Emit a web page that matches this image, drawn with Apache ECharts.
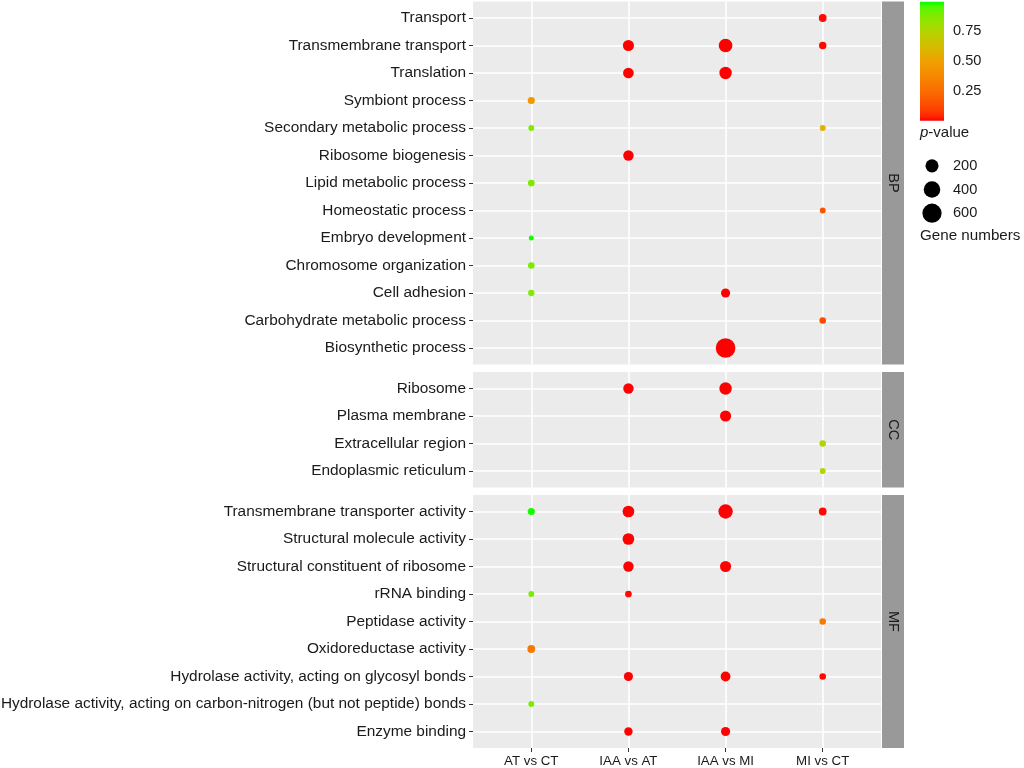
<!DOCTYPE html>
<html>
<head>
<meta charset="utf-8">
<script src="https://cdn.jsdelivr.net/npm/echarts@6/dist/echarts.min.js"></script>
<style>
html,body{margin:0;padding:0;background:#fff;}
#c{width:1024px;height:768px;}
</style>
</head>
<body>
<div id="c"></div>
<script>
// ---------- data ----------
var comparisons = ['AT vs CT', 'IAA vs AT', 'IAA vs MI', 'MI vs CT'];

var bpTerms = ['Transport', 'Transmembrane transport', 'Translation', 'Symbiont process',
  'Secondary metabolic process', 'Ribosome biogenesis', 'Lipid metabolic process',
  'Homeostatic process', 'Embryo development', 'Chromosome organization', 'Cell adhesion',
  'Carbohydrate metabolic process', 'Biosynthetic process'];
var ccTerms = ['Ribosome', 'Plasma membrane', 'Extracellular region', 'Endoplasmic reticulum'];
var mfTerms = ['Transmembrane transporter activity', 'Structural molecule activity',
  'Structural constituent of ribosome', 'rRNA binding', 'Peptidase activity',
  'Oxidoreductase activity', 'Hydrolase activity, acting on glycosyl bonds',
  'Hydrolase activity, acting on carbon-nitrogen (but not peptide) bonds', 'Enzyme binding'];

// [term, comparison, gene numbers, p-value]
var bpPoints = [
  ['Transport', 'MI vs CT', 28, 0.01],
  ['Transmembrane transport', 'IAA vs AT', 116, 0.0],
  ['Transmembrane transport', 'IAA vs MI', 229, 0.0],
  ['Transmembrane transport', 'MI vs CT', 23, 0.01],
  ['Translation', 'IAA vs AT', 102, 0.0],
  ['Translation', 'IAA vs MI', 168, 0.0],
  ['Symbiont process', 'AT vs CT', 19, 0.46],
  ['Secondary metabolic process', 'AT vs CT', 7, 0.87],
  ['Secondary metabolic process', 'MI vs CT', 7, 0.57],
  ['Ribosome biogenesis', 'IAA vs AT', 92, 0.0],
  ['Lipid metabolic process', 'AT vs CT', 14, 0.88],
  ['Homeostatic process', 'MI vs CT', 7, 0.15],
  ['Embryo development', 'AT vs CT', 5, 0.98],
  ['Chromosome organization', 'AT vs CT', 12, 0.88],
  ['Cell adhesion', 'AT vs CT', 10, 0.87],
  ['Cell adhesion', 'IAA vs MI', 56, 0.0],
  ['Carbohydrate metabolic process', 'MI vs CT', 12, 0.12],
  ['Biosynthetic process', 'IAA vs MI', 640, 0.0]
];
var ccPoints = [
  ['Ribosome', 'IAA vs AT', 92, 0.0],
  ['Ribosome', 'IAA vs MI', 168, 0.0],
  ['Plasma membrane', 'IAA vs MI', 116, 0.0],
  ['Extracellular region', 'MI vs CT', 12, 0.73],
  ['Endoplasmic reticulum', 'MI vs CT', 7, 0.73]
];
var mfPoints = [
  ['Transmembrane transporter activity', 'AT vs CT', 19, 0.98],
  ['Transmembrane transporter activity', 'IAA vs AT', 139, 0.0],
  ['Transmembrane transporter activity', 'IAA vs MI', 266, 0.0],
  ['Transmembrane transporter activity', 'MI vs CT', 28, 0.01],
  ['Structural molecule activity', 'IAA vs AT', 139, 0.0],
  ['Structural constituent of ribosome', 'IAA vs AT', 92, 0.0],
  ['Structural constituent of ribosome', 'IAA vs MI', 116, 0.0],
  ['rRNA binding', 'AT vs CT', 7, 0.88],
  ['rRNA binding', 'IAA vs AT', 14, 0.01],
  ['Peptidase activity', 'MI vs CT', 12, 0.31],
  ['Oxidoreductase activity', 'AT vs CT', 28, 0.30],
  ['Hydrolase activity, acting on glycosyl bonds', 'IAA vs AT', 56, 0.0],
  ['Hydrolase activity, acting on glycosyl bonds', 'IAA vs MI', 75, 0.0],
  ['Hydrolase activity, acting on glycosyl bonds', 'MI vs CT', 12, 0.01],
  ['Hydrolase activity, acting on carbon-nitrogen (but not peptide) bonds', 'AT vs CT', 7, 0.88],
  ['Enzyme binding', 'IAA vs AT', 40, 0.0],
  ['Enzyme binding', 'IAA vs MI', 56, 0.0]
];

var colorTicks = [0.25, 0.50, 0.75];
var sizeBreaks = [200, 400, 600];
var pRange = [0, 0.99];
var geneRange = [5, 700];
var paletteAnchors = ['#ff0000', '#f0a000', '#00ff00'];

// ---------- helpers ----------
var FONT = '"Liberation Sans", Arial, Helvetica, sans-serif';
var TXT = '#1a1a1a';

function hexToRgb(h) { return [parseInt(h.substr(1,2),16)/255, parseInt(h.substr(3,2),16)/255, parseInt(h.substr(5,2),16)/255]; }
function toLin(c) { return c <= 0.04045 ? c/12.92 : Math.pow((c+0.055)/1.055, 2.4); }
function fromLin(c) { return c <= 0.0031308 ? 12.92*c : 1.055*Math.pow(c, 1/2.4) - 0.055; }
function rgbToLab(rgb) {
  var r = toLin(rgb[0]), g = toLin(rgb[1]), b = toLin(rgb[2]);
  var X = (0.4124*r + 0.3576*g + 0.1805*b)/0.95047;
  var Y = (0.2126*r + 0.7152*g + 0.0722*b);
  var Z = (0.0193*r + 0.1192*g + 0.9505*b)/1.08883;
  function f(t){ return t > 0.008856 ? Math.cbrt(t) : 7.787*t + 16/116; }
  var fx=f(X), fy=f(Y), fz=f(Z);
  return [116*fy-16, 500*(fx-fy), 200*(fy-fz)];
}
function labToHex(lab) {
  var fy = (lab[0]+16)/116, fx = fy + lab[1]/500, fz = fy - lab[2]/200;
  function fi(t){ return t*t*t > 0.008856 ? t*t*t : (t-16/116)/7.787; }
  var X = fi(fx)*0.95047, Y = fi(fy), Z = fi(fz)*1.08883;
  var r =  3.2406*X - 1.5372*Y - 0.4986*Z;
  var g = -0.9689*X + 1.8758*Y + 0.0415*Z;
  var b =  0.0557*X - 0.2040*Y + 1.0570*Z;
  function h(c){ c = Math.max(0, Math.min(1, fromLin(Math.max(0,c)))); var s = Math.round(c*255).toString(16); return s.length<2?'0'+s:s; }
  return '#' + h(r) + h(g) + h(b);
}
var anchorLabs = paletteAnchors.map(function(c){ return rgbToLab(hexToRgb(c)); });
function ramp(t) {
  var segs = anchorLabs.length - 1;
  var s = Math.min(segs - 1, Math.floor(t*segs));
  var u = t*segs - s;
  var a = anchorLabs[s], b = anchorLabs[s+1];
  return labToHex([0,1,2].map(function(i){ return a[i] + (b[i]-a[i])*u; }));
}
var NSTOP = 24;
var rampColors = [];
for (var k = 0; k <= NSTOP; k++) rampColors.push(ramp(k/NSTOP));

function sizeOf(v) {
  var t = (v - geneRange[0]) / (geneRange[1] - geneRange[0]);
  t = Math.max(0, t);
  return 5 + 15.3*Math.sqrt(t);
}

var F = 5; // sub-steps per category, to reproduce ggplot 0.6 expansion
function expandedCats(labels) {
  var n = labels.length, arr = [];
  for (var i = 0; i <= F*n - F + 6; i++) arr.push('');
  labels.forEach(function(l, i){ arr[3 + F*i] = l; });
  return arr;
}
function onCat(idx) { return idx % F === 3; }

var panels = [
  { name: 'BP', terms: bpTerms, points: bpPoints, top: 1.5, height: 363 },
  { name: 'CC', terms: ccTerms, points: ccPoints, top: 372, height: 115.5 },
  { name: 'MF', terms: mfTerms, points: mfPoints, top: 495, height: 253 }
];
var PL = 473, PW = 408;

var grids = [], xAxes = [], yAxes = [], series = [], graphics = [];
panels.forEach(function(p, gi) {
  grids.push({ left: PL, top: p.top, width: PW, height: p.height, show: true, backgroundColor: '#ebebeb', borderWidth: 0,
    containLabel: false, outerBoundsMode: 'none' });
  var last = gi === panels.length - 1;
  xAxes.push({
    type: 'category', gridIndex: gi, data: expandedCats(comparisons), boundaryGap: false,
    axisLine: { show: false },
    axisTick: { show: last, length: 4, interval: onCat, lineStyle: { color: '#333', width: 1 } },
    axisLabel: { show: last, interval: onCat, color: TXT, fontSize: 13.3, fontFamily: FONT, margin: 7 },
    splitLine: { show: true, interval: onCat, lineStyle: { color: '#ffffff', width: 1.6 } }
  });
  yAxes.push({
    type: 'category', gridIndex: gi, data: expandedCats(p.terms), boundaryGap: false, inverse: true,
    axisLine: { show: false },
    axisTick: { show: true, length: 4, interval: onCat, lineStyle: { color: '#333', width: 1 } },
    axisLabel: { show: true, interval: onCat, color: TXT, fontSize: 15.4, fontFamily: FONT, margin: 7, padding: [2, 0, 0, 0] },
    splitLine: { show: true, interval: onCat, lineStyle: { color: '#ffffff', width: 1.6 } }
  });
  series.push({
    type: 'scatter', xAxisIndex: gi, yAxisIndex: gi, z: 5,
    data: p.points.map(function(d){
      return [3 + F*comparisons.indexOf(d[1]), 3 + F*p.terms.indexOf(d[0]), d[2], d[3]];
    }),
    symbolSize: function(val){ return sizeOf(val[2]); },
    itemStyle: { opacity: 1 },
    emphasis: { disabled: true }
  });
  graphics.push({ type: 'rect', shape: { x: 882, y: p.top, width: 22, height: p.height }, style: { fill: '#999999' }, silent: true });
  graphics.push({ type: 'text', x: 893, y: p.top + p.height/2, rotation: -Math.PI/2,
    style: { text: p.name, fill: TXT, font: '14.5px ' + FONT, align: 'center', verticalAlign: 'middle' }, silent: true });
});

// colour bar legend
var cbIdx = grids.length;
grids.push({ left: 920, top: 1.7, width: 24, height: 119, show: false, containLabel: false, outerBoundsMode: 'none' });
xAxes.push({ type: 'category', gridIndex: cbIdx, data: ['p'], show: false });
function cbLabel(v) {
  for (var i = 0; i < colorTicks.length; i++) if (Math.abs(v - colorTicks[i]) < 1e-6) return colorTicks[i].toFixed(2);
  return '';
}
yAxes.push({ type: 'value', gridIndex: cbIdx, min: pRange[0], max: pRange[1], interval: 0.25, position: 'right',
  axisLine: { show: false }, splitLine: { show: false },
  axisTick: { show: true, inside: true, length: 4, lineStyle: { color: '#ffffff', width: 1 } },
  axisLabel: { color: TXT, fontSize: 14.6, fontFamily: FONT, margin: 9, formatter: cbLabel, showMinLabel: false, showMaxLabel: false }
});
yAxes.push({ type: 'value', gridIndex: cbIdx, min: pRange[0], max: pRange[1], interval: 0.25, position: 'left',
  axisLine: { show: false }, splitLine: { show: false }, axisLabel: { show: false },
  axisTick: { show: true, inside: true, length: 4, lineStyle: { color: '#ffffff', width: 1 } }
});
var gradStops = [];
for (var k2 = 0; k2 <= NSTOP; k2++) gradStops.push({ offset: k2/NSTOP, color: rampColors[NSTOP - k2] });
series.push({ type: 'bar', xAxisIndex: cbIdx, yAxisIndex: yAxes.length - 2, data: [pRange[1]], barWidth: '100%', silent: true,
  itemStyle: { color: new echarts.graphic.LinearGradient(0, 0, 0, 1, gradStops) } });

// size legend
var szIdx = grids.length;
grids.push({ left: 920, top: 154, width: 24, height: 71, show: false, containLabel: false, outerBoundsMode: 'none' });
xAxes.push({ type: 'category', gridIndex: szIdx, data: ['s'], show: false });
yAxes.push({ type: 'category', gridIndex: szIdx, data: sizeBreaks.map(String), inverse: true, position: 'right',
  axisLine: { show: false }, axisTick: { show: false }, splitLine: { show: false },
  axisLabel: { color: TXT, fontSize: 14.6, fontFamily: FONT, margin: 9 } });
series.push({ type: 'scatter', xAxisIndex: szIdx, yAxisIndex: yAxes.length - 1, silent: true,
  data: sizeBreaks.map(function(v, i){ return [0, i, v]; }),
  symbolSize: function(val){ return sizeOf(val[2]); },
  itemStyle: { color: '#000000', opacity: 1 } });

graphics.push({ type: 'text', x: 920, y: 133, silent: true,
  style: { text: '{i|p}-value', rich: { i: { fontStyle: 'italic', fontSize: 15, fontFamily: FONT, fill: TXT } },
    font: '15px ' + FONT, fill: TXT, verticalAlign: 'middle' } });
graphics.push({ type: 'text', x: 920, y: 236, silent: true,
  style: { text: 'Gene numbers', font: '15.2px ' + FONT, fill: TXT, verticalAlign: 'middle' } });

var chart = echarts.init(document.getElementById('c'), null, { renderer: 'canvas' });
chart.setOption({
  animation: false,
  backgroundColor: '#ffffff',
  textStyle: { fontFamily: FONT },
  grid: grids, xAxis: xAxes, yAxis: yAxes, series: series,
  visualMap: [{
    type: 'continuous', show: false, dimension: 3, min: pRange[0], max: pRange[1],
    seriesIndex: [0, 1, 2], inRange: { color: rampColors }
  }],
  graphic: graphics
});
</script>
</body>
</html>
